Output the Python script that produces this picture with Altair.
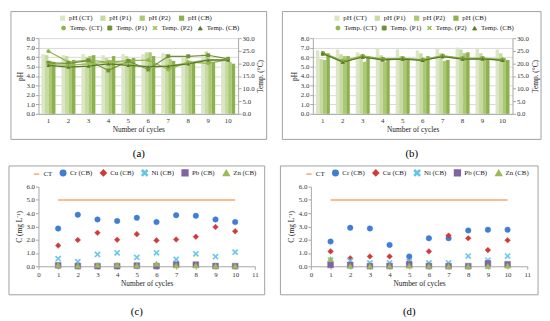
import altair as alt
import pandas as pd

FONT = "Liberation Serif"

cycles = [1, 2, 3, 4, 5, 6, 7, 8, 9, 10]
ph_series = ["pH (CT)", "pH (P1)", "pH (P2)", "pH (CB)"]
temp_series = ["Temp. (CT)", "Temp. (P1)", "Temp. (P2)", "Temp. (CB)"]
metal_series = ["CT", "Cr (CB)", "Cu (CB)", "Ni (CB)", "Pb (CB)", "Zn (CB)"]

# ---- panel (a)
a_ph_ct = [6.3, 6.2, 6.3, 6.2, 6.3, 6.3, 6.4, 6.0, 6.3, 5.8]
a_ph_p1 = [6.2, 6.1, 6.0, 5.9, 6.1, 6.5, 6.3, 5.9, 6.6, 5.6]
a_ph_p2 = [5.6, 5.4, 6.1, 5.7, 5.8, 6.5, 5.8, 5.6, 5.8, 5.5]
a_ph_cb = [5.5, 5.7, 6.2, 6.1, 5.9, 6.1, 5.6, 5.5, 5.5, 5.3]
a_t_ct = [24.8, 20.5, 21.3, 20.5, 21.1, 21.3, 17.6, 20.5, 20.0, 21.5]
a_t_p1 = [20.2, 20.0, 21.1, 17.2, 20.9, 17.6, 22.8, 22.8, 23.2, 21.8]
a_t_p2 = [19.6, 19.2, 19.8, 20.5, 19.8, 18.3, 18.9, 20.2, 21.5, 21.5]
a_t_cb = [19.2, 18.5, 18.9, 19.8, 19.2, 18.7, 18.9, 19.8, 21.3, 21.3]

# ---- panel (b)
b_ph_ct = [6.7, 6.8, 6.5, 6.9, 6.8, 6.7, 6.9, 7.0, 6.9, 6.8]
b_ph_p1 = [5.8, 6.3, 6.3, 6.2, 6.1, 6.4, 6.4, 6.8, 6.4, 6.4]
b_ph_p2 = [5.7, 6.1, 5.5, 5.5, 5.9, 5.7, 5.6, 6.4, 5.9, 5.9]
b_ph_cb = [6.4, 6.1, 6.1, 5.7, 5.8, 6.1, 5.7, 6.5, 5.7, 5.7]
b_t_ct = [24.2, 21.0, 23.0, 21.8, 22.0, 21.5, 23.1, 22.0, 22.1, 21.6]
b_t_p1 = [23.8, 20.6, 22.6, 21.6, 21.9, 21.3, 22.8, 21.9, 21.9, 21.3]
b_t_p2 = [24.0, 20.8, 22.8, 21.5, 21.8, 21.4, 22.9, 21.8, 22.0, 21.4]
b_t_cb = [23.9, 20.5, 22.5, 21.4, 21.7, 21.2, 22.7, 21.7, 21.8, 21.2]

# ---- panel (c)
ct_limit = [5.0, 5.0, 5.0, 5.0, 5.0, 5.0, 5.0, 5.0, 5.0, 5.0]
c_cr = [2.84, 3.88, 3.53, 3.41, 3.65, 3.33, 3.85, 3.80, 3.53, 3.33]
c_cu = [1.56, 1.98, 2.52, 2.00, 2.42, 1.95, 2.02, 2.22, 2.96, 2.64]
c_ni = [0.57, 0.35, 0.89, 1.01, 0.67, 1.01, 0.52, 0.94, 0.72, 1.06]
c_pb = [0.07, 0.01, 0.01, 0.01, 0.05, 0.01, 0.12, 0.12, 0.02, 0.01]
c_zn = [0.10, 0.05, 0.10, 0.12, 0.07, 0.20, 0.07, 0.07, 0.03, 0.03]

# ---- panel (d)
d_cr = [1.86, 2.90, 2.85, 1.61, 0.74, 2.11, 2.11, 2.70, 2.75, 2.75]
d_cu = [1.12, 0.60, 0.74, 0.74, 0.32, 1.12, 2.31, 2.11, 1.22, 1.96]
d_ni = [0.47, 0.40, 0.25, 0.25, 0.35, 0.25, 0.25, 0.77, 0.45, 0.77]
d_pb = [0.10, 0.10, 0.01, 0.02, 0.12, 0.02, 0.01, 0.01, 0.22, 0.15]
d_zn = [0.55, 0.02, 0.01, 0.02, 0.05, 0.02, 0.01, 0.01, 0.01, 0.05]

ph_colors = ["#dbe6c6", "#c7daa3", "#abc874", "#8db14e"]
t_colors = ["#8fb54c", "#6f9034", "#9cbc5a", "#587a28"]
X_PATH = "M-1,-0.7L-0.7,-1L0,-0.3L0.7,-1L1,-0.7L0.3,0L1,0.7L0.7,1L0,0.3L-0.7,1L-1,0.7L-0.3,0Z"
t_shapes = ["circle", "square", X_PATH, "triangle-up"]
metal_colors = ["#f6a96c", "#3f7ed2", "#d23a3a", "#62c6e6", "#8064a2", "#9bbb59"]
metal_shapes = ["stroke", "circle", "diamond", X_PATH, "square", "triangle-up"]
metal_sizes = [30, 36, 18, 22, 24, 20]

AXIS_LINE = "#a6a6a6"


def long_df(names, lists, value_name, field):
    rows = []
    for s, vals in zip(names, lists):
        for c, v in zip(cycles, vals):
            rows.append({"cycle": c, field: s, value_name: v})
    return pd.DataFrame(rows)


def frame_layer(x0, x1, y0, y1):
    return alt.Chart(alt.Data(values=[{"f": 1}])).mark_rect(
        fill="transparent", stroke="#a0a0a0", strokeWidth=1
    ).encode(x=alt.value(x0), x2=alt.value(x1), y=alt.value(y0), y2=alt.value(y1))


def caption_title(text, offset):
    return alt.TitleParams(text, orient="bottom", anchor="middle", frame="bounds",
                           fontSize=11, font=FONT, fontWeight="normal",
                           color="#000000", offset=offset)


def ph_panel(ph_vals, t_vals, caption, left_off, right_off):
    W, H = 203, 77
    ph_df = long_df(ph_series, ph_vals, "pH", "phs")
    t_df = long_df(temp_series, t_vals, "temp", "ts")
    xaxis = alt.Axis(title="Number of cycles", labelAngle=0, ticks=False,
                     domainColor=AXIS_LINE, labelPadding=3, titlePadding=2, grid=False)
    x = alt.X("cycle:O", axis=xaxis, scale=alt.Scale(paddingInner=0.3, paddingOuter=0.15))
    ph_leg = alt.Legend(orient="none", legendX=21, legendY=-24, direction="horizontal",
                        columns=4, title=None, symbolType="square", symbolSize=28,
                        columnPadding=7, labelOffset=3, padding=0, symbolStrokeWidth=0)
    bars = alt.Chart(ph_df).mark_bar().encode(
        x=x,
        xOffset=alt.XOffset("phs:N", sort=ph_series,
                            scale=alt.Scale(domain=ph_series, paddingInner=0, paddingOuter=0)),
        y=alt.Y("pH:Q", scale=alt.Scale(domain=[0, 8], nice=False),
                axis=alt.Axis(title="pH", orient="left", values=[0, 1, 2, 3, 4, 5, 6, 7, 8],
                              format=".1f", grid=True, gridColor="#d9d9d9", tickSize=3,
                              domainColor=AXIS_LINE, tickColor=AXIS_LINE, labelPadding=1,
                              titlePadding=2)),
        color=alt.Color("phs:N", sort=ph_series,
                        scale=alt.Scale(domain=ph_series, range=ph_colors), legend=ph_leg),
    )
    ty = alt.Y("temp:Q", scale=alt.Scale(domain=[0, 30], nice=False),
               axis=alt.Axis(orient="right", title="Temp. (°C)", values=[0, 5, 10, 15, 20, 25, 30],
                             format=".1f", grid=False, tickSize=3, titleAngle=270,
                             titleBaseline="top",
                             domainColor=AXIS_LINE, tickColor=AXIS_LINE, labelPadding=1,
                             titlePadding=3))
    t_leg = alt.Legend(orient="none", legendX=22, legendY=-14, direction="horizontal",
                       columns=4, title=None, symbolSize=16, columnPadding=3,
                       labelOffset=3, padding=0, symbolStrokeWidth=1)
    tsc = alt.Scale(domain=temp_series, range=t_colors)
    line = alt.Chart(t_df).mark_line(strokeWidth=1.2).encode(
        x=x, y=ty, stroke=alt.Stroke("ts:N", scale=tsc, legend=t_leg))
    pts = alt.Chart(t_df).mark_point(filled=True, size=16, opacity=1).encode(
        x=x, y=ty,
        fill=alt.Fill("ts:N", scale=tsc, legend=t_leg),
        shape=alt.Shape("ts:N", scale=alt.Scale(domain=temp_series, range=t_shapes), legend=t_leg))
    frame = frame_layer(-left_off, W + right_off, -27, H + 26)
    return alt.layer(frame, bars, alt.layer(line, pts)).resolve_scale(y="independent").properties(
        width=W, height=H, title=caption_title(caption, 8))


def metal_panel(vals, caption, left_off, right_off):
    W, H = 220, 81
    pts_df = long_df(metal_series[1:], vals, "c", "ms")
    ct_df = long_df(["CT"], [ct_limit], "c", "ms")
    x = alt.X("cycle:Q", scale=alt.Scale(domain=[0, 11], nice=False),
              axis=alt.Axis(title="Number of cycles", values=list(range(12)), format="d",
                            grid=False, tickSize=3, domainColor=AXIS_LINE, tickColor=AXIS_LINE,
                            labelPadding=1, titlePadding=3, labelFlush=False))
    y = alt.Y("c:Q", scale=alt.Scale(domain=[0, 6], nice=False),
              axis=alt.Axis(title="C (mg L⁻¹)", values=[0, 1, 2, 3, 4, 5, 6], format=".1f",
                            grid=False, tickSize=3, domainColor=AXIS_LINE, tickColor=AXIS_LINE,
                            labelPadding=1, titlePadding=3))
    leg = alt.Legend(orient="none", legendX=-6, legendY=-18, direction="horizontal",
                     columns=6, title=None, symbolSize=22, columnPadding=5, labelOffset=3,
                     padding=0, symbolStrokeWidth=1.5)
    csc = alt.Scale(domain=metal_series, range=metal_colors)
    line = alt.Chart(ct_df).mark_line(strokeWidth=1.5).encode(
        x=x, y=y, stroke=alt.Stroke("ms:N", scale=csc, legend=leg))
    pts = alt.Chart(pts_df).mark_point(filled=True, opacity=1, strokeWidth=0.5).encode(
        x=x, y=y,
        fill=alt.Fill("ms:N", scale=csc, legend=leg),
        stroke=alt.Stroke("ms:N", scale=csc, legend=leg),
        shape=alt.Shape("ms:N", scale=alt.Scale(domain=metal_series, range=metal_shapes), legend=leg),
        size=alt.Size("ms:N", scale=alt.Scale(domain=metal_series, range=metal_sizes), legend=None),
    )
    frame = frame_layer(-left_off, W + right_off, -21, H + 29)
    return alt.layer(frame, line, pts).properties(width=W, height=H, title=caption_title(caption, 11))


pa = ph_panel([a_ph_ct, a_ph_p1, a_ph_p2, a_ph_cb], [a_t_ct, a_t_p1, a_t_p2, a_t_cb], "(a)", 28, 29)
pb = ph_panel([b_ph_ct, b_ph_p1, b_ph_p2, b_ph_cb], [b_t_ct, b_t_p1, b_t_p2, b_t_cb], "(b)", 31, 29)
pc = metal_panel([c_cr, c_cu, c_ni, c_pb, c_zn], "(c)", 30, 10)
pd_ = metal_panel([d_cr, d_cu, d_ni, d_pb, d_zn], "(d)", 31, 11)

RES = dict(color="independent", fill="independent", stroke="independent",
           shape="independent", size="independent")
row1 = alt.hconcat(pa, pb, spacing=14).resolve_scale(**RES)
row2 = alt.hconcat(pc, pd_, spacing=14).resolve_scale(**RES)

chart = alt.vconcat(row1, row2, spacing=6).resolve_scale(**RES).properties(
    padding=0
).configure(font=FONT).configure_view(strokeWidth=0).configure_axis(
    labelFont=FONT, titleFont=FONT, labelFontSize=7, titleFontSize=7.5,
    titleFontWeight="normal", labelColor="#333333", titleColor="#222222"
).configure_legend(labelFont=FONT, labelFontSize=7, labelColor="#222222")

chart.save("out.html", embed_options={"renderer": "svg", "actions": False})
